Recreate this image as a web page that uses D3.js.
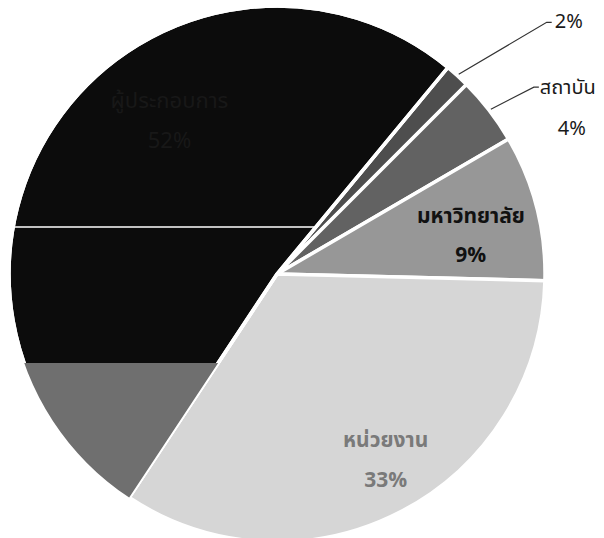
<!DOCTYPE html>
<html>
<head>
<meta charset="utf-8">
<script src="https://cdn.jsdelivr.net/npm/d3@7"></script>
<style>
  body { margin: 0; background: #fff; }
  text { font-family: "Noto Sans Thai", "Tahoma", "Loma", "Garuda", "DejaVu Sans", sans-serif; }
</style>
</head>
<body>
<div id="chart"></div>
<script>
// slice order follows the picture, clockwise from the 2% wedge
const categories = ["อื่นๆ", "สถาบัน", "มหาวิทยาลัย", "หน่วยงาน", "ผู้ประกอบการ"];
const values = [1.5, 4.1, 8.8, 33.9, 51.7];
const pctLabels = ["2%", "4%", "9%", "33%", "52%"];
const fills = ["#4e4e4e", "#626262", "#979797", "#d6d6d6", "#0c0c0c"];

const width = 604, height = 538;
const cx = 277, cy = 274, radius = 268;

const svg = d3.select("#chart")
    .append("svg")
    .attr("width", width)
    .attr("height", height);

const g = svg.append("g")
    .attr("transform", "translate(" + cx + "," + cy + ")");

const pie = d3.pie()
    .sort(null)
    .value(function(d) { return d; })
    .startAngle(39.6 * Math.PI / 180)
    .endAngle(39.6 * Math.PI / 180 + 2 * Math.PI);

const arcs = pie(values);

const arc = d3.arc()
    .innerRadius(0)
    .outerRadius(radius);

// clip for the big dark slice (used for the scan shading)
svg.append("defs").append("clipPath")
    .attr("id", "darkClip")
    .append("path")
    .attr("transform", "translate(" + cx + "," + cy + ")")
    .attr("d", arc(arcs[4]));

// slices
g.selectAll("path.slice")
    .data(arcs)
    .enter()
    .append("path")
    .attr("class", "slice")
    .attr("d", arc)
    .style("fill", function(d, i) { return fills[i]; })
    .style("stroke", "#fff")
    .style("stroke-width", 3.5)
    .style("stroke-linejoin", "round");

// lighter band on the lower part of the dark slice + faint rule (scan marks)
const shade = svg.append("g").attr("clip-path", "url(#darkClip)");
shade.append("rect")
    .attr("x", 0).attr("y", 363)
    .attr("width", width).attr("height", height - 363)
    .style("fill", "#6f6f6f");
shade.append("line")
    .attr("x1", 0).attr("x2", width)
    .attr("y1", 227).attr("y2", 227)
    .style("stroke", "#fff")
    .style("stroke-width", 1.5);

// re-draw the white border on the lower edge of the dark slice
g.append("path")
    .attr("d", arc(arcs[4]))
    .style("fill", "none")
    .style("stroke", "#fff")
    .style("stroke-width", 3.5);

// labels
const mid = function(d) { return (d.startAngle + d.endAngle) / 2; };
const polar = function(a, r) { return [r * Math.sin(a), -r * Math.cos(a)]; };

// outside labels with leader lines (2% and สถาบัน)
const outside = [
  { i: 0, end: [88, -52], lines: [{ t: pctLabels[0], dx: 8, dy: 6, anchor: "start" }] },
  { i: 1, end: [43, -22], lines: [{ t: categories[1], dx: 6, dy: 7, anchor: "start" },
                                  { t: pctLabels[1], dx: 38, dy: 48, anchor: "middle" }] }
];
outside.forEach(function(o) {
    const a = mid(arcs[o.i]);
    const p0 = polar(a, radius + 2);
    const p1 = [p0[0] + o.end[0], p0[1] + o.end[1]];
    g.append("polyline")
        .attr("points", [p0, p1, [p1[0] + 5, p1[1]]].map(function(p) { return p.join(","); }).join(" "))
        .style("fill", "none")
        .style("stroke", "#333")
        .style("stroke-width", 1.2);
    o.lines.forEach(function(l) {
        g.append("text")
            .attr("x", p1[0] + l.dx)
            .attr("y", p1[1] + l.dy)
            .attr("text-anchor", l.anchor)
            .style("font-size", "20px")
            .style("fill", "#1a1a1a")
            .text(l.t);
    });
});

// inside labels
const inside = [
  { i: 2, r: 196, off: [4, -2], color: "#111", weight: "bold", size: 21, gap: 39 },
  { i: 3, r: 222, off: [6, -24], color: "#7a7a7a", weight: "bold", size: 21, gap: 40 },
  { i: 4, r: 165, off: [25, -68], color: "#181818", weight: "normal", size: 22, gap: 40 }
];
inside.forEach(function(o) {
    const c = polar(mid(arcs[o.i]), o.r);
    const lines = [categories[o.i], pctLabels[o.i]];
    lines.forEach(function(t, k) {
        g.append("text")
            .attr("x", c[0] + o.off[0])
            .attr("y", c[1] + o.off[1] + k * o.gap)
            .attr("text-anchor", "middle")
            .style("font-size", o.size + "px")
            .style("font-weight", o.weight)
            .style("fill", o.color)
            .text(t);
    });
});
</script>
</body>
</html>
